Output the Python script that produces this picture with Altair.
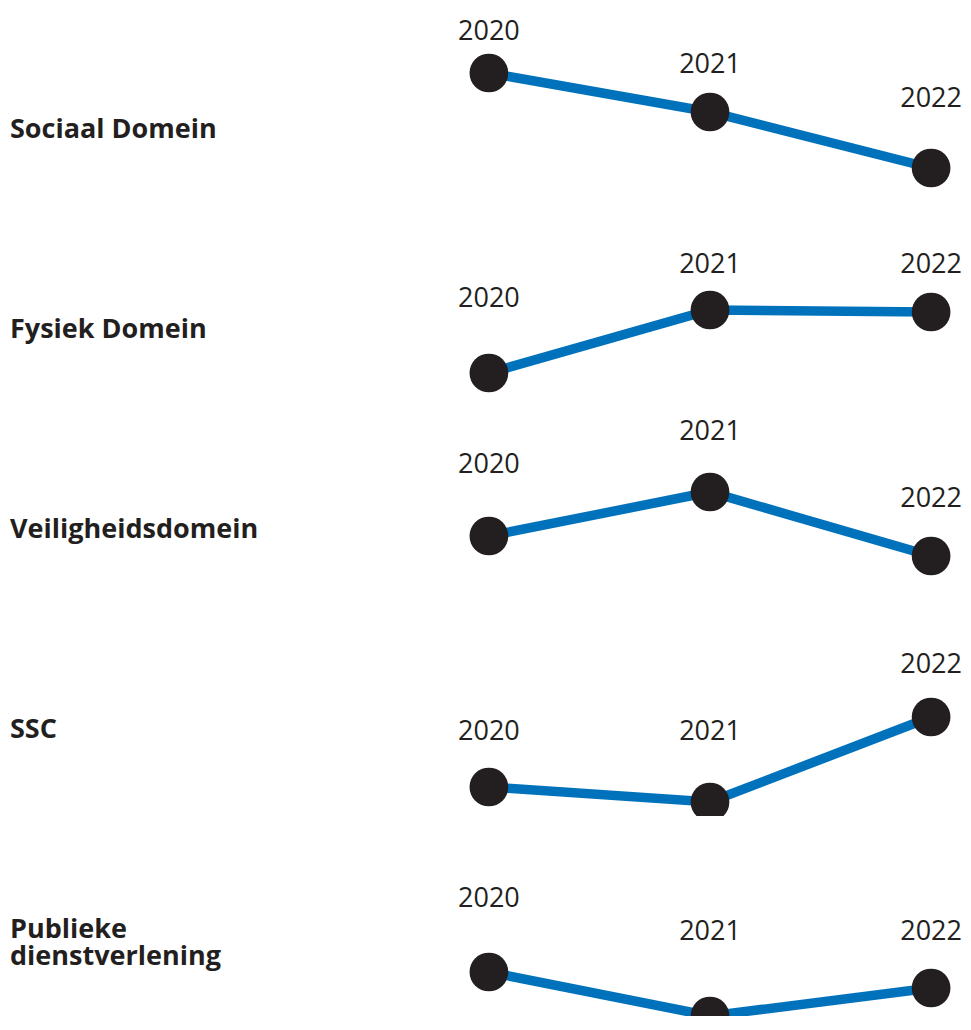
import altair as alt
import pandas as pd

# Row categories (top to bottom) and years
domains = ["Sociaal Domein", "Fysiek Domein", "Veiligheidsdomein", "SSC", "Publieke\ndienstverlening"]
years = [2020, 2021, 2022]

# Score per domain for 2020, 2021, 2022 (index units)
sociaal = [7.55, 7.16, 6.60]
fysiek = [6.55, 7.18, 7.16]
veiligheid = [6.92, 7.36, 6.72]
ssc = [6.41, 6.26, 7.11]
publiek = [6.56, 6.12, 6.40]

series = [sociaal, fysiek, veiligheid, ssc, publiek]
rows = []
for dom, vals in zip(domains, series):
    for yr, v in zip(years, vals):
        rows.append({"domain": dom, "year": yr, "value": v})
df = pd.DataFrame(rows)

BLUE = "#0072BC"
DARK = "#231F20"
FONT = "Open Sans"

x_enc = alt.X("year:O", scale=alt.Scale(type="point", padding=0.09), axis=None)
y_scale = alt.Scale(domain=[6.12, 8.0], nice=False, zero=False)

line = alt.Chart().mark_line(color=BLUE, strokeWidth=9.5, clip=True).encode(
    x=x_enc, y=alt.Y("value:Q", scale=y_scale, axis=None)
)
points = alt.Chart().mark_circle(color=DARK, opacity=1, size=1500, clip=True).encode(
    x=x_enc, y=alt.Y("value:Q", scale=y_scale, axis=None)
)
# year labels snap to a text grid above each dot
year_labels = (
    alt.Chart()
    .transform_calculate(
        label_level="max(6.98, 6.98 + 0.335 * ceil((datum.value + 0.433 - 6.98) / 0.335))"
    )
    .mark_text(font=FONT, fontSize=27, color=DARK, baseline="alphabetic", dy=10)
    .encode(x=x_enc, y=alt.Y("label_level:Q", scale=y_scale, axis=None), text="year:O")
)

name_style = dict(
    align="left", baseline="alphabetic", font=FONT, fontWeight="bold",
    fontSize=27, color=DARK,
)
names_base = (
    alt.Chart()
    .transform_filter(alt.datum.year == 2020)
    .transform_calculate(
        first="split(datum.domain, '\\n')[0]",
        second="length(split(datum.domain, '\\n')) > 1 ? split(datum.domain, '\\n')[1] : ''",
    )
)
names1 = names_base.mark_text(**name_style).encode(
    x=alt.value(-459), y=alt.value(110), text="first:N"
)
names2 = names_base.mark_text(**name_style).encode(
    x=alt.value(-459), y=alt.value(137), text="second:N"
)

chart = (
    alt.layer(line, points, year_labels, names1, names2, data=df)
    .properties(width=482, height=188)
    .facet(row=alt.Row("domain:N", sort=domains, header=None), spacing=12)
    .properties(bounds="flush", padding={"left": 2, "top": 9, "right": 0, "bottom": 0})
    .configure_view(strokeWidth=0)
)

chart.save("out.html", embed_options={"renderer": "svg", "actions": False})
